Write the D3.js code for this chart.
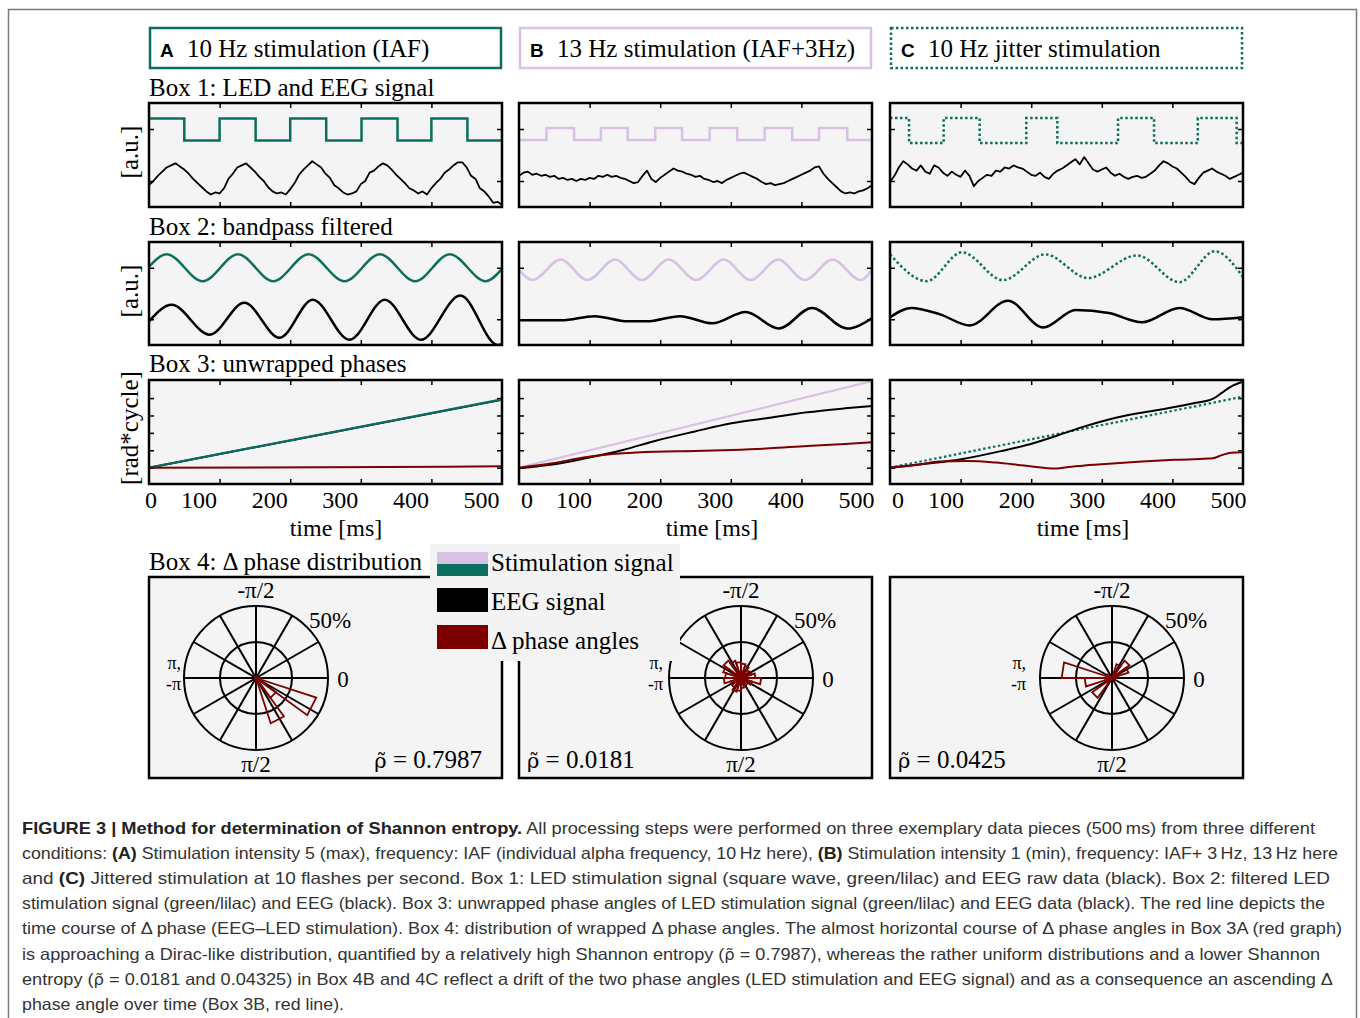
<!DOCTYPE html>
<html>
<head>
<meta charset="utf-8">
<script src="https://cdn.jsdelivr.net/npm/d3@7"></script>
<style>
  body { margin: 0; background: #fff; }
  svg { display: block; }
</style>
</head>
<body>
<svg id="fig" width="1360" height="1018"></svg>
<script>
// ---- data ----
var conditions = ["A", "B", "C"];
var headerTitles = ["10 Hz stimulation (IAF)", "13 Hz stimulation (IAF+3Hz)", "10 Hz jitter stimulation"];
var boxTitles = ["Box 1: LED and EEG signal", "Box 2: bandpass filtered", "Box 3: unwrapped phases", "Box 4: \u0394 phase distribution"];
var yLabels = ["[a.u.]", "[a.u.]", "[rad*cycle]"];
var timeTicks = [0, 100, 200, 300, 400, 500];
var legendLabels = ["Stimulation signal", "EEG signal", "\u0394 phase angles"];
var rhoValues = ["0.7987", "0.0181", "0.0425"];

// Box 1: LED square waves (start state + switching times in ms, low/high level in a.u.)
var stimStartHigh = [true, false, true];
var stimEdgesA = [50, 100, 151, 200, 251, 301, 352, 400, 451];
var stimEdgesB = [39, 78, 116, 154, 193, 231, 270, 309, 348, 387, 425, 465];
var stimEdgesC = [27, 76, 127, 193, 237, 323, 374, 436, 491];
var stimLevels = [[64, 85], [64.5, 76], [61.5, 85.5]];

// Box 1: raw EEG, one sample every 6.25 ms
var rawStep = 6.25;
var eegRawA = [21,25,30,34,38,40,42,39,36,32,27,23,19,15,12,14,13,18,27,32,38,40,42,38,34,29,25,19,15,13,
  14,12,17,23,31,36,40,44,41,38,32,28,21,18,14,12,13,15,22,25,33,35,39,42,40,36,31,27,23,18,
  16,13,15,12,18,23,27,33,36,40,43,43,38,30,27,18,15,10,4,5,2];
var eegRawB = [30,33,34,31,32,30,31,29,30,27,28,26,27,25,27,26,28,27,30,29,31,29,30,28,27,25,23,24,30,35,
  27,24,28,31,34,37,35,34,32,31,29,30,27,26,24,25,23,26,28,30,32,33,31,29,27,24,22,23,21,22,
  23,25,27,29,31,33,35,38,39,32,27,23,19,15,13,14,13,15,16,18,21];
var eegRawC = [24,30,38,44,41,37,35,40,34,32,40,38,33,30,34,31,29,35,30,20,25,28,31,30,35,34,38,37,40,38,
  37,34,31,30,33,29,27,32,35,37,40,43,46,41,48,42,36,34,36,38,33,30,32,29,27,29,30,28,29,32,
  35,40,44,42,39,37,33,29,24,22,28,33,35,37,34,32,30,27,29,31,33];

// Box 2: bandpass filtered signals (turning points, ms / a.u.)
var bpStimA_t = [0, 25, 76, 126, 176, 226, 277, 327, 377, 426, 477, 500];
var bpStimA_v = [76, 88, 62, 88, 62, 88, 62, 88, 62, 88, 62, 74];
var bpEegA_t = [0, 32, 86, 135, 185, 232, 284, 334, 385, 441, 494, 500];
var bpEegA_v = [23, 39, 10, 41, 7, 44, 5, 44, 5, 48, 0, 1];
var bpStimB_t = [0, 19, 59, 97, 136, 174, 212, 251, 290, 328, 367, 405, 444, 484, 500];
var bpStimB_v = [73, 63, 83, 63, 83, 63, 83, 63, 83, 63, 83, 63, 83, 63, 73];
var bpEegB_t = [0, 60, 107, 154, 181, 228, 274, 321, 368, 415, 465, 500];
var bpEegB_v = [24, 24, 28, 23, 23, 28, 21, 32, 16, 36, 16, 26];
var bpStimC_t = [0, 52, 102, 160, 220, 280, 350, 410, 460, 500];
var bpStimC_v = [88, 62, 90, 63, 88, 65, 87, 61, 91, 66];
var bpEegC_t = [0, 30, 70, 113, 167, 217, 263, 310, 357, 410, 457, 500];
var bpEegC_v = [27, 36, 30, 19, 43, 17, 34, 31, 22, 36, 25, 27];

// Box 3: unwrapped phases (ms / tick units)
var phStimA_t = [0, 500], phStimA_v = [0, 3.93];
var phEegA_t = [0, 500], phEegA_v = [0, 3.9];
var phDeltaA_t = [0, 250, 500], phDeltaA_v = [0, 0.02, 0.08];
var phStimB_t = [0, 500], phStimB_v = [0, 4.98];
var phEegB_t = [0, 47, 94, 147, 194, 248, 301, 355, 408, 462, 500];
var phEegB_v = [-0.03, 0.18, 0.54, 1.02, 1.55, 2.07, 2.55, 2.87, 3.18, 3.41, 3.55];
var phDeltaB_t = [0, 47, 94, 147, 194, 248, 301, 355, 408, 462, 500];
var phDeltaB_v = [0, 0.25, 0.6, 0.83, 0.92, 0.96, 1.02, 1.11, 1.25, 1.36, 1.46];
var phStimC_t = [0, 500], phStimC_v = [0, 4.08];
var phEegC_t = [0, 50, 103, 157, 203, 237, 270, 323, 377, 430, 457, 470, 483, 500];
var phEegC_v = [0, 0.22, 0.5, 0.95, 1.4, 1.85, 2.3, 2.9, 3.3, 3.7, 3.95, 4.3, 4.66, 4.94];
var phDeltaC_t = [0, 37, 70, 110, 150, 190, 237, 250, 270, 310, 357, 403, 450, 457, 470, 483, 500];
var phDeltaC_v = [0, 0.15, 0.35, 0.38, 0.29, 0.12, -0.05, 0.02, 0.1, 0.22, 0.35, 0.45, 0.52, 0.54, 0.72, 0.86, 0.88];

// Box 4: rose histograms, 20 bins of 18 deg starting at 0 (percent)
var roseA = [3, 44, 17, 33, 3, 1, 0, 0, 0, 0, 0, 0, 0, 0, 0, 0, 0, 0, 0, 1];
var roseB = [14, 8, 6, 5, 7, 9, 10, 8, 7.5, 12, 11, 13, 15, 12.5, 11, 10, 9, 7, 7.5, 10];
var roseC = [2, 0, 0, 0, 0, 0, 1, 17, 5, 19, 35, 4, 0, 0, 0, 0, 10, 15, 12, 3];
var rosePct = [25, 50];

// caption (pieces flagged "rho" are set in a font that stacks the combining tilde)
var rhoT = "\u03C1\u0303";
var captionLines = [
  [["FIGURE 3 | Method for determination of Shannon entropy.", true], [" All processing steps were performed on three exemplary data pieces (500\u2009ms) from three different", false]],
  [["conditions: ", false], ["(A)", true], [" Stimulation intensity 5 (max), frequency: IAF (individual alpha frequency, 10\u2009Hz here), ", false], ["(B)", true], [" Stimulation intensity 1 (min), frequency: IAF+ 3\u2009Hz, 13\u2009Hz here", false]],
  [["and ", false], ["(C)", true], [" Jittered stimulation at 10 flashes per second. Box 1: LED stimulation signal (square wave, green/lilac) and EEG raw data (black). Box 2: filtered LED", false]],
  [["stimulation signal (green/lilac) and EEG (black). Box 3: unwrapped phase angles of LED stimulation signal (green/lilac) and EEG data (black). The red line depicts the", false]],
  [["time course of \u0394 phase (EEG\u2013LED stimulation). Box 4: distribution of wrapped \u0394 phase angles. The almost horizontal course of \u0394 phase angles in Box 3A (red graph)", false]],
  [["is approaching a Dirac-like distribution, quantified by a relatively high Shannon entropy (", false], [rhoT, false, "rho"], ["  = 0.7987), whereas the rather uniform distributions and a lower Shannon", false]],
  [["entropy (", false], [rhoT, false, "rho"], ["  = 0.0181 and 0.04325) in Box 4B and 4C reflect a drift of the two phase angles (LED stimulation and EEG signal) and as a consequence an ascending \u0394", false]],
  [["phase angle over time (Box 3B, red line).", false]]
];
var captionEnds = [1315, 1338, 1330, 1325, 1342, 1320, 1333, 344];

// ---- drawing ----
var teal = "#0b6e5e", lilac = "#d8c1e4", darkRed = "#7d0000", panelFill = "#f4f4f4";
var serif = '"Liberation Serif", "Times New Roman", serif';
var sans = '"Liberation Sans", Arial, sans-serif';
var stimColor = [teal, lilac, teal];
var stimDash = [null, null, "2.5,2.5"];
var fs = "25px";

var colX = [149, 519, 890];
var panelW = 353;
var rowTop = [103, 242, 380];
var rowH = [104, 103, 104];

var svg = d3.select("#fig");
var defs = svg.append("defs");

// outer frame of the figure
svg.append("rect")
  .attr("x", 8.5).attr("y", 9.5)
  .attr("width", 1348).attr("height", 1040)
  .attr("fill", "none").attr("stroke", "#7a7a7a").attr("stroke-width", 1.5);

function zip(t, v) { return t.map(function(d, i) { return [d, v[i]]; }); }

function squarePoints(startHigh, edges, levels) {
  var high = startHigh;
  var pts = [[0, high ? levels[1] : levels[0]]];
  edges.forEach(function(e) {
    high = !high;
    pts.push([e, high ? levels[1] : levels[0]]);
  });
  pts.push([500, high ? levels[1] : levels[0]]);
  return pts;
}

// headers
conditions.forEach(function(c, i) {
  var x0 = colX[i];
  svg.append("rect")
    .attr("x", x0 + 1).attr("y", 28)
    .attr("width", panelW - 2).attr("height", 40)
    .attr("fill", "#fff")
    .attr("stroke", stimColor[i]).attr("stroke-width", 2.5)
    .attr("stroke-dasharray", stimDash[i]);
  svg.append("text")
    .attr("x", x0 + 11).attr("y", 57)
    .style("font-family", sans).style("font-weight", "bold").style("font-size", "19px")
    .text(c);
  svg.append("text")
    .attr("x", x0 + 38).attr("y", 57)
    .style("font-family", serif).style("font-size", fs)
    .text(headerTitles[i]);
});

// box titles
var titleY = [96, 235, 372, 570];
boxTitles.forEach(function(t, r) {
  svg.append("text")
    .attr("x", 149).attr("y", titleY[r])
    .style("font-family", serif).style("font-size", fs)
    .text(t);
});

// y axis titles (rotated)
var yLabelY = [152, 291, 428];
yLabels.forEach(function(t, r) {
  svg.append("text")
    .attr("transform", "translate(138," + yLabelY[r] + ") rotate(-90)")
    .attr("text-anchor", "middle")
    .style("font-family", serif).style("font-size", fs)
    .text(t);
});

var rawSeries = [eegRawA, eegRawB, eegRawC];
var stimEdges = [stimEdgesA, stimEdgesB, stimEdgesC];
var bpStim = [zip(bpStimA_t, bpStimA_v), zip(bpStimB_t, bpStimB_v), zip(bpStimC_t, bpStimC_v)];
var bpEeg = [zip(bpEegA_t, bpEegA_v), zip(bpEegB_t, bpEegB_v), zip(bpEegC_t, bpEegC_v)];
var phStim = [zip(phStimA_t, phStimA_v), zip(phStimB_t, phStimB_v), zip(phStimC_t, phStimC_v)];
var phEeg = [zip(phEegA_t, phEegA_v), zip(phEegB_t, phEegB_v), zip(phEegC_t, phEegC_v)];
var phDelta = [zip(phDeltaA_t, phDeltaA_v), zip(phDeltaB_t, phDeltaB_v), zip(phDeltaC_t, phDeltaC_v)];

var labShift = [-21, -16, -15];
var zeroX = [151, 527, 898];
var timeLabelX = [336, 712, 1083];

for (var r = 0; r < 3; r++) {
  conditions.forEach(function(c, i) {
    var x0 = colX[i], y0 = rowTop[r], h = rowH[r];
    var x = d3.scaleLinear().domain([0, 500]).range([x0, x0 + panelW]);
    var y = r < 2
      ? d3.scaleLinear().domain([0, 100]).range([y0 + h, y0])
      : d3.scaleLinear().domain([-0.94, 5.04]).range([y0 + h, y0]);
    var yTicks = r < 2 ? [25, 75] : [0, 1, 2, 3, 4];

    var clipId = "clip" + r + c;
    defs.append("clipPath").attr("id", clipId)
      .append("rect").attr("x", x0).attr("y", y0).attr("width", panelW).attr("height", h);

    var g = svg.append("g");
    g.append("rect")
      .attr("x", x0).attr("y", y0).attr("width", panelW).attr("height", h)
      .attr("fill", panelFill);

    // inner tick marks on all four sides
    var tickGroups = [
      g.append("g").attr("transform", "translate(0," + (y0 + h) + ")")
        .call(d3.axisBottom(x).tickValues([100, 200, 300, 400]).tickSize(-5).tickFormat("")),
      g.append("g").attr("transform", "translate(0," + y0 + ")")
        .call(d3.axisTop(x).tickValues([100, 200, 300, 400]).tickSize(-5).tickFormat("")),
      g.append("g").attr("transform", "translate(" + x0 + ",0)")
        .call(d3.axisLeft(y).tickValues(yTicks).tickSize(-5).tickFormat("")),
      g.append("g").attr("transform", "translate(" + (x0 + panelW) + ",0)")
        .call(d3.axisRight(y).tickValues(yTicks).tickSize(-5).tickFormat(""))
    ];
    tickGroups.forEach(function(a) {
      a.select(".domain").remove();
      a.selectAll("line").attr("stroke-width", 1.5);
    });

    var lines = g.append("g").attr("clip-path", "url(#" + clipId + ")");
    var line = d3.line().x(function(d) { return x(d[0]); }).y(function(d) { return y(d[1]); });

    if (r === 0) {
      lines.append("path")
        .datum(squarePoints(stimStartHigh[i], stimEdges[i], stimLevels[i]))
        .attr("d", line.curve(d3.curveStepAfter))
        .attr("fill", "none").attr("stroke", stimColor[i]).attr("stroke-width", 2.5)
        .attr("stroke-dasharray", stimDash[i]);
      lines.append("path")
        .datum(rawSeries[i].map(function(v, k) { return [k * rawStep, v]; }))
        .attr("d", line.curve(d3.curveLinear))
        .attr("fill", "none").attr("stroke", "#000").attr("stroke-width", 1.8)
        .attr("stroke-linejoin", "round");
    } else if (r === 1) {
      lines.append("path")
        .datum(bpStim[i])
        .attr("d", line.curve(d3.curveMonotoneX))
        .attr("fill", "none").attr("stroke", stimColor[i]).attr("stroke-width", 2.5)
        .attr("stroke-dasharray", stimDash[i]);
      lines.append("path")
        .datum(bpEeg[i])
        .attr("d", line.curve(d3.curveMonotoneX))
        .attr("fill", "none").attr("stroke", "#000").attr("stroke-width", 2.5);
    } else {
      var stimFirst = i !== 0;
      if (stimFirst) {
        lines.append("path").datum(phStim[i]).attr("d", line.curve(d3.curveMonotoneX))
          .attr("fill", "none").attr("stroke", stimColor[i]).attr("stroke-width", 2.2)
          .attr("stroke-dasharray", stimDash[i]);
      }
      lines.append("path").datum(phEeg[i]).attr("d", line.curve(d3.curveMonotoneX))
        .attr("fill", "none").attr("stroke", "#000").attr("stroke-width", 2);
      if (!stimFirst) {
        lines.append("path").datum(phStim[i]).attr("d", line.curve(d3.curveMonotoneX))
          .attr("fill", "none").attr("stroke", stimColor[i]).attr("stroke-width", 2.2);
      }
      lines.append("path").datum(phDelta[i]).attr("d", line.curve(d3.curveMonotoneX))
        .attr("fill", "none").attr("stroke", darkRed).attr("stroke-width", 2);

      // time labels under box 3
      var la = svg.append("g")
        .attr("transform", "translate(" + labShift[i] + ",508)")
        .call(d3.axisBottom(x).tickValues(timeTicks.slice(1)).tickSize(0).tickPadding(0));
      la.select(".domain").remove();
      la.selectAll("text")
        .attr("dy", null).attr("y", 0).attr("fill", "#000")
        .style("font-family", serif).style("font-size", "24px");
      svg.append("text")
        .attr("x", zeroX[i]).attr("y", 508).attr("text-anchor", "middle")
        .style("font-family", serif).style("font-size", "24px")
        .text(timeTicks[0]);
      svg.append("text")
        .attr("x", timeLabelX[i]).attr("y", 536).attr("text-anchor", "middle")
        .style("font-family", serif).style("font-size", "24px")
        .text("time [ms]");
    }

    g.append("rect")
      .attr("x", x0).attr("y", y0).attr("width", panelW).attr("height", h)
      .attr("fill", "none").attr("stroke", "#000").attr("stroke-width", 2.5);
  });
}

// Box 4: polar rose plots (panels first, legend over them, then labels)
var roses = [roseA, roseB, roseC];
var polarCx = [256, 741, 1112];
var polarCy = 678;
var piLabelDx = [-75, -78, -86];
var rScale = d3.scaleLinear().domain([0, 50]).range([0, 72]);
var radial = d3.lineRadial()
  .angle(function(d) { return d[0] + Math.PI / 2; })
  .radius(function(d) { return rScale(d[1]); });

conditions.forEach(function(c, i) {
  var x0 = colX[i];
  svg.append("rect")
    .attr("x", x0).attr("y", 577).attr("width", panelW).attr("height", 201)
    .attr("fill", panelFill).attr("stroke", "#000").attr("stroke-width", 2.5);

  var pg = svg.append("g").attr("transform", "translate(" + polarCx[i] + "," + polarCy + ")");

  d3.range(0, 360, 30).forEach(function(a) {
    var th = a * Math.PI / 180;
    pg.append("path")
      .attr("d", radial([[th, 0], [th, 50]]))
      .attr("stroke", "#000").attr("stroke-width", 2);
  });
  rosePct.forEach(function(p) {
    pg.append("circle").attr("r", rScale(p))
      .attr("fill", "none").attr("stroke", "#000").attr("stroke-width", 2);
  });

  var binW = 2 * Math.PI / roses[i].length;
  roses[i].forEach(function(v, k) {
    if (v <= 0) return;
    var t1 = k * binW, t2 = (k + 1) * binW;
    pg.append("path")
      .attr("d", radial([[t1, 0], [t1, v], [t2, v], [t2, 0]]) + "Z")
      .attr("fill", "none").attr("stroke", darkRed).attr("stroke-width", 1.8)
      .attr("stroke-linejoin", "miter");
  });
  pg.append("circle").attr("r", 2.5).attr("fill", darkRed);
});

// legend (overlaps box 4 A and B)
var lg = svg.append("g");
lg.append("rect").attr("x", 430).attr("y", 544).attr("width", 250).attr("height", 117).attr("fill", "#f3f3f3");
lg.append("rect").attr("x", 437).attr("y", 552).attr("width", 51).attr("height", 12).attr("fill", lilac);
lg.append("rect").attr("x", 437).attr("y", 564).attr("width", 51).attr("height", 12).attr("fill", teal);
lg.append("rect").attr("x", 437).attr("y", 588).attr("width", 51).attr("height", 24).attr("fill", "#000");
lg.append("rect").attr("x", 437).attr("y", 625).attr("width", 51).attr("height", 24).attr("fill", darkRed);
var legendY = [571, 610, 649];
legendLabels.forEach(function(t, k) {
  lg.append("text").attr("x", 491).attr("y", legendY[k])
    .style("font-family", serif).style("font-size", fs).text(t);
});

// polar labels
conditions.forEach(function(c, i) {
  var x0 = colX[i];
  var lbl = svg.append("g").attr("transform", "translate(" + polarCx[i] + "," + polarCy + ")")
    .style("font-family", serif);
  var lab = function(txt, dx, dy, anchor, size) {
    return lbl.append("text").attr("x", dx).attr("y", dy).attr("text-anchor", anchor)
      .style("font-size", size || "23px").text(txt);
  };
  lab("-\u03C0/2", 0, -80, "middle");
  lab("\u03C0/2", 0, 94, "middle");
  lab("0", 87, 9, "middle");
  lab(rosePct[1] + "%", 53, -50, "start");
  lab("\u03C0,", piLabelDx[i], -9, "end", "18px");
  lab("-\u03C0", piLabelDx[i], 12, "end", "18px");

  var rho = svg.append("text").attr("y", 768)
    .style("font-family", serif).style("font-size", fs);
  rho.append("tspan").style("font-family", '"DejaVu Serif", serif').style("font-size", "21px").text(rhoT);
  rho.append("tspan").text(" = " + rhoValues[i]);
  if (i === 0) rho.attr("x", x0 + 333).attr("text-anchor", "end");
  else rho.attr("x", x0 + 8);
});

// caption
captionLines.forEach(function(segs, k) {
  var t = svg.append("text")
    .attr("x", 22).attr("y", 834 + k * 25.1)
    .attr("textLength", captionEnds[k] - 22).attr("lengthAdjust", "spacingAndGlyphs")
    .style("font-family", sans).style("font-size", "16.5px").attr("fill", "#333");
  segs.forEach(function(s) {
    var ts = t.append("tspan")
      .style("font-weight", s[1] ? "bold" : "normal")
      .attr("fill", s[1] ? "#222" : "#333")
      .text(s[0]);
    if (s[2] === "rho") ts.style("font-family", '"DejaVu Sans", sans-serif').style("font-size", "15px");
  });
});
</script>
</body>
</html>
